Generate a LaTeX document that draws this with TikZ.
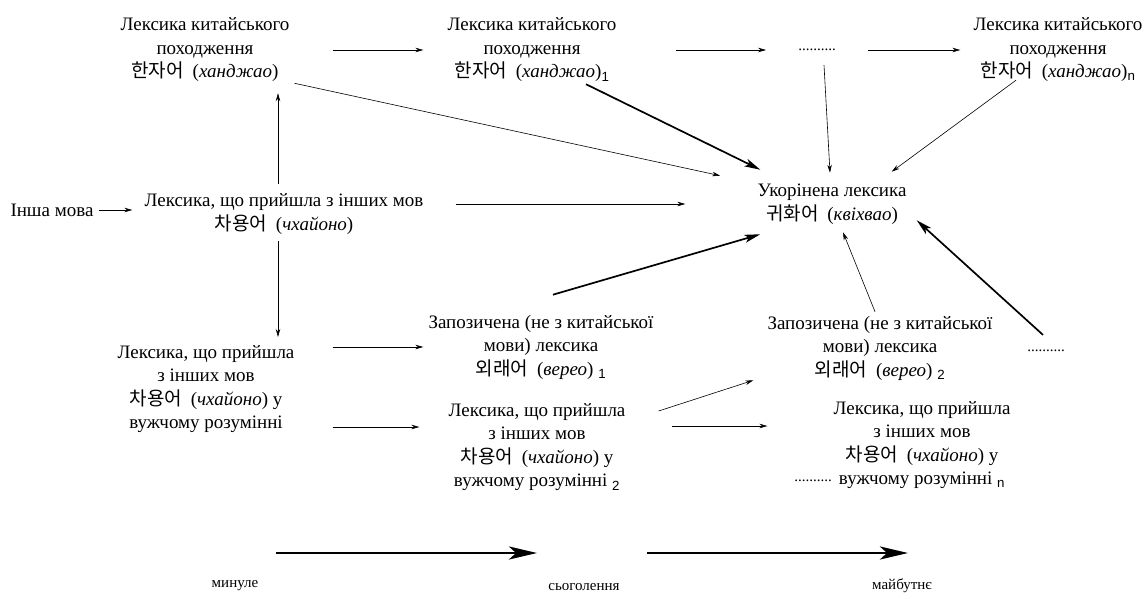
\documentclass[tikz,border=0pt]{standalone}
\usepackage{fontspec}
\setmainfont{Liberation Serif}
\setsansfont{Liberation Sans}
\newfontfamily\korfont{Noto Sans CJK KR}[Scale=1.0]
\usetikzlibrary{arrows.meta}

\newcommand{\ko}[1]{{\korfont #1}\hspace{4pt}}
\newcommand{\lowidx}[1]{\textsubscript{\sffamily #1}}

\tikzset{
  lbl/.style={align=center, inner sep=0pt, font=\fontsize{19}{23.5}\selectfont},
  dotrow/.style={inner sep=0pt, font=\fontsize{15}{18}\selectfont},
  timelbl/.style={inner sep=0pt, font=\fontsize{15}{17}\selectfont},
  thinarr/.style={-{Stealth[length=8pt,width=4.5pt]}, line width=0.6pt},
  thickarr/.style={-{Stealth[length=16pt,width=8pt,inset=4pt]}, line width=1.7pt},
  timearr/.style={-{Stealth[length=28pt,width=13pt,inset=7pt]}, line width=2.8pt},
}

\begin{document}
\begin{tikzpicture}[x=1pt,y=-1pt]
\useasboundingbox (0,0) rectangle (1148,599);

% Text Node
\node[lbl] (a0) at (205,50) {Лексика китайського\\походження\\\ko{한자어} (\textit{ханджао})};
% Text Node
\node[lbl] (a1) at (532,50) {Лексика китайського\\походження\\\ko{한자어} (\textit{ханджао})\lowidx{1}};
% Text Node
\node[dotrow] (dt) at (817,50) {..........};
% Text Node
\node[lbl] (an) at (1058,50) {Лексика китайського\\походження\\\ko{한자어} (\textit{ханджао})\lowidx{n}};
% Text Node
\node[lbl] (kv) at (832,204) {Укорінена лексика\\\ko{귀화어} (\textit{квіхвао})};
% Text Node
\node[lbl] (other) at (52,210) {Інша мова};
% Text Node
\node[lbl] (b) at (284,214) {Лексика, що прийшла з інших мов\\\ko{차용어} (\textit{чхайоно})};
% Text Node
\node[lbl] (c) at (206,389) {Лексика, що прийшла\\з інших мов\\\ko{차용어} (\textit{чхайоно}) у\\вужчому розумінні};
% Text Node
\node[lbl] (d1) at (541,347) {Запозичена (не з китайської\\мови) лексика\\\ko{외래어} (\textit{верео}) \lowidx{1}};
% Text Node
\node[lbl] (e1) at (537,447) {Лексика, що прийшла\\з інших мов\\\ko{차용어} (\textit{чхайоно}) у\\вужчому розумінні \lowidx{2}};
% Text Node
\node[lbl] (d2) at (880,348) {Запозичена (не з китайської\\мови) лексика\\\ko{외래어} (\textit{верео}) \lowidx{2}};
% Text Node
\node[dotrow] (dr) at (1046,351) {..........};
% Text Node
\node[lbl] (e2) at (922,445) {Лексика, що прийшла\\з інших мов\\\ko{차용어} (\textit{чхайоно}) у\\вужчому розумінні \lowidx{n}};
% Text Node
\node[dotrow] (de) at (813,481) {..........};

% Text Node
\node[timelbl] (t0) at (235,586) {минуле};
% Text Node
\node[timelbl] (t1) at (584,587) {сьоголення};
% Text Node
\node[timelbl] (t2) at (902,586) {майбутнє};

% top row
\draw[thinarr, shorten <=43pt, shorten >=24pt] (a0) -- (a1);
\draw[thinarr, shorten <=59pt, shorten >=32pt] (a1) -- (dt);
\draw[thinarr, shorten <=32pt, shorten >=13pt] (dt) -- (an);

% into the rooted vocabulary
\draw[thinarr, shorten <=5pt, shorten >=38pt] (a0.south east) -- (kv.north west);
\draw[thickarr] ([xshift=54pt,yshift=-2pt]a1.south) -- ([xshift=3pt,yshift=14pt]kv.north west);
\draw[thinarr] ([xshift=7pt,yshift=-14pt]dt.south) -- ([xshift=-2pt,yshift=11pt]kv.north);
\draw[thinarr] ([xshift=-42pt,yshift=2pt]an.south) -- ([xshift=-15pt,yshift=12pt]kv.north east);
\draw[thinarr, shorten <=32pt, shorten >=72pt] (b.east |- kv) -- (kv.west);
\draw[thickarr] ([xshift=12pt,yshift=20pt]d1.north) -- ([xshift=3pt,yshift=-10pt]kv.south west);
\draw[thinarr] ([xshift=-5pt,yshift=4pt]d2.north) -- ([xshift=11pt,yshift=-8pt]kv.south);
\draw[thickarr] ([xshift=-3pt,yshift=15pt]dr.north) -- ([xshift=10pt,yshift=4pt]kv.south east);

% left part
\draw[thinarr, shorten <=5pt, shorten >=12pt] (other) -- (other -| b.west);
\draw[thinarr, shorten <=10pt, shorten >=11pt] ([xshift=-6pt]b.north) -- ([xshift=-6pt]b.north |- a0.south);
\draw[thinarr, shorten <=7pt, shorten >=8pt] ([xshift=-6pt]b.south) -- ([xshift=-6pt]b.south |- c.north);
\draw[thinarr, shorten <=38pt, shorten >=5pt] (c.east |- d1) -- (d1.west);
\draw[thinarr, shorten <=38pt, shorten >=29pt] ([yshift=6pt]c.south east) -- ([yshift=6pt]c.south east -| e1.west);

% lower part
\draw[thinarr] ([xshift=33pt,yshift=-8pt]e1.north east) -- ([xshift=-14pt]d2.south west);
\draw[thinarr, shorten <=46pt, shorten >=66pt] ([yshift=21pt]e1.east) -- ([yshift=21pt]e1.east -| e2.west);

% time line
\coordinate (p0) at (276,553);
\coordinate (p1) at (537,553);
\coordinate (p2) at (647,553);
\coordinate (p3) at (908,553);
\draw[timearr] (p0) -- (p1);
\draw[timearr] (p2) -- (p3);

\end{tikzpicture}
\end{document}
